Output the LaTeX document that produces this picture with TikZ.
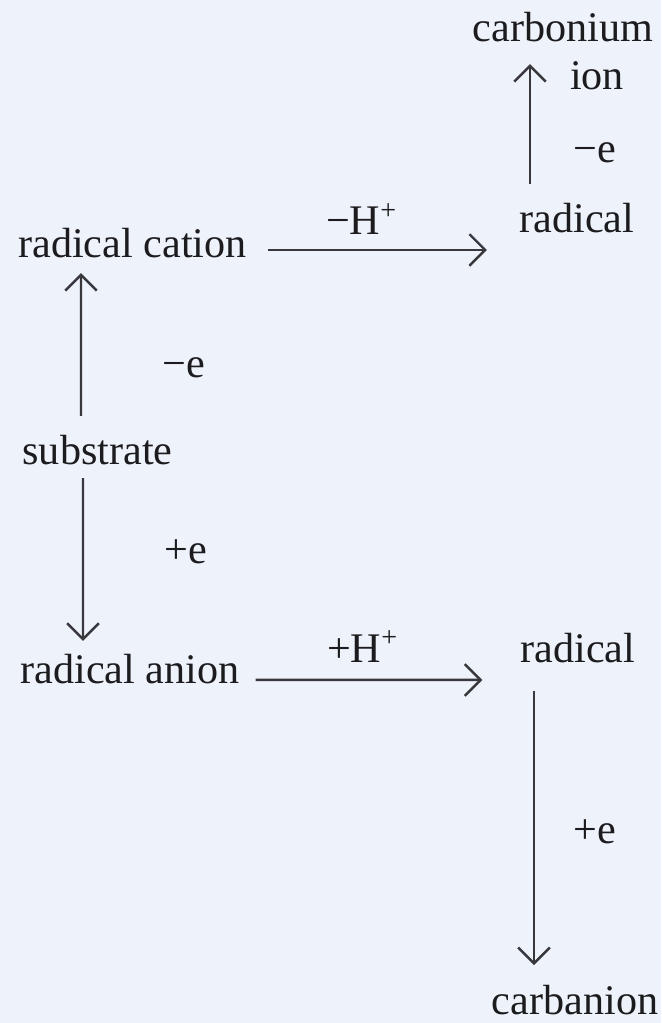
\documentclass[tikz,border=0pt]{standalone}
\usepackage{fontspec}
\setmainfont{Liberation Serif}
\usetikzlibrary{arrows.meta}
\definecolor{paper}{RGB}{238,242,251}
\definecolor{ink}{RGB}{28,28,30}
\definecolor{stroke}{RGB}{55,55,60}

\begin{document}
\begin{tikzpicture}[
    chem/.style={anchor=base, inner sep=0pt, text=ink, font=\fontsize{12}{14}\selectfont},
    rxn/.style={draw=stroke, line width=0.7pt, -{Straight Barb[length=4.5pt,width=9pt]}},
  ]
  \fill[paper] (0,0) rectangle (6.61,-10.23);
  \useasboundingbox (0,0) rectangle (6.61,-10.23);

  \node[chem] (carb)   at (5.63,-0.42)  {carbonium};
  \node[chem] (ion)    at (5.97,-0.90)  {ion};
  \node[chem] (em1)    at (5.95,-1.63)  {−e};
  \node[chem] (radT)   at (5.77,-2.33)  {radical};
  \node[chem] (rc)     at (1.325,-2.58) {radical cation};
  \node[chem] (mH)     at (3.62,-2.35)  {−H\textsuperscript{+}};
  \node[chem] (em2)    at (1.84,-3.78)  {−e};
  \node[chem] (sub)    at (0.975,-4.65) {substrate};
  \node[chem] (pe1)    at (1.86,-5.63)  {+e};
  \node[chem] (ra)     at (1.30,-6.83)  {radical anion};
  \node[chem] (pH)     at (3.63,-6.62)  {+H\textsuperscript{+}};
  \node[chem] (radB)   at (5.78,-6.62)  {radical};
  \node[chem] (pe2)    at (5.95,-8.43)  {+e};
  \node[chem] (carban) at (5.75,-10.14) {carbanion};

  \draw[rxn] ([xshift=-1.65mm,yshift=1.92mm]sub.north) -- ([xshift=-5.15mm,yshift=-1.4mm]rc.south);
  \draw[rxn] ([xshift=-1.45mm,yshift=-1.2mm]sub.south) -- ([xshift=-4.7mm,yshift=1.22mm]ra.north);
  \draw[rxn] ([xshift=2.1mm,yshift=-0.64mm]rc.east) -- ([xshift=-3.2mm,yshift=-3.14mm]radT.west);
  \draw[rxn] ([xshift=1.55mm,yshift=-1.14mm]ra.east) -- ([xshift=-3.76mm,yshift=-3.24mm]radB.west);
  \draw[rxn] ([xshift=-4.7mm,yshift=1.92mm]radT.north) -- ([xshift=-3.3mm,yshift=-2.1mm]carb.south);
  \draw[rxn] ([xshift=-4.4mm,yshift=-2.8mm]radB.south) -- ([xshift=-4.1mm,yshift=1.9mm]carban.north);
\end{tikzpicture}
\end{document}
